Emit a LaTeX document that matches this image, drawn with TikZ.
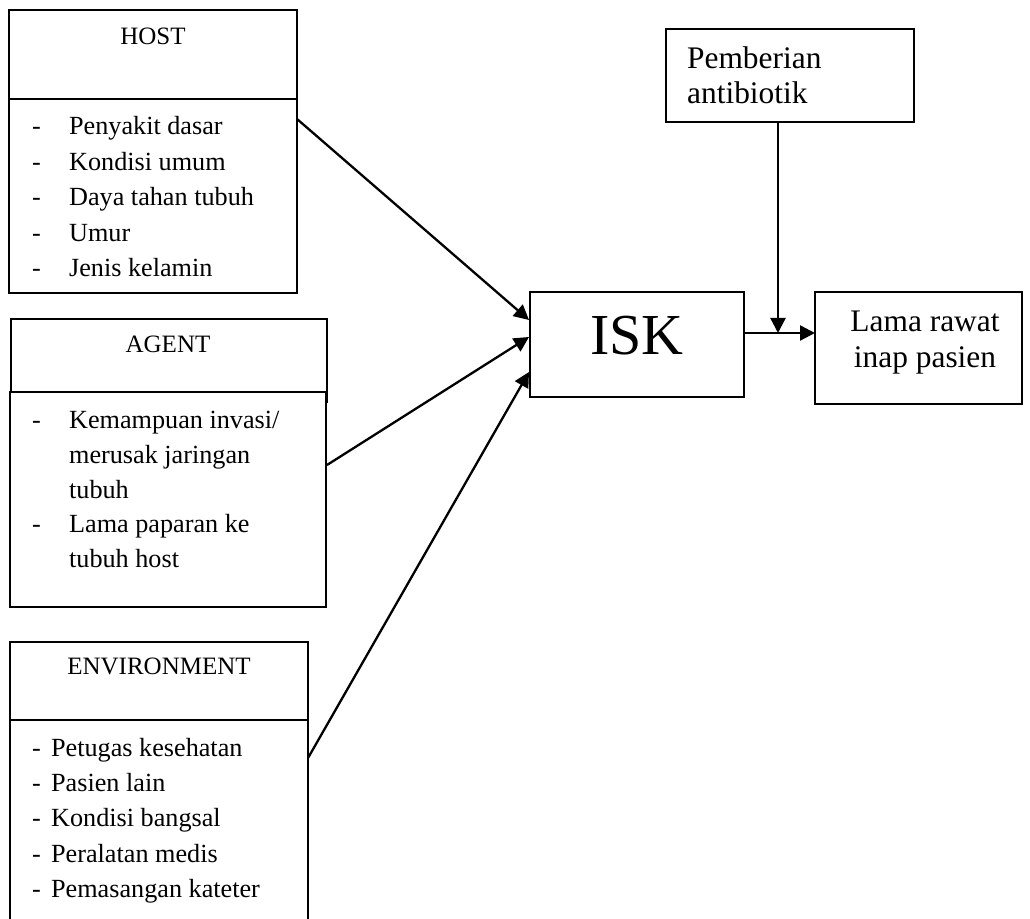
\documentclass[tikz,border=0pt]{standalone}
\usepackage{fontspec}
\setmainfont{Liberation Serif}
\usetikzlibrary{arrows.meta}
\begin{document}
\begin{tikzpicture}[x=0.5pt,y=-0.5pt,line width=1.15pt,
  box/.style={draw,rectangle,inner sep=0pt},
  hd/.style={inner sep=0pt,anchor=base,font=\fontsize{12.5}{15}\selectfont},
  it/.style={inner sep=0pt,anchor=base west,font=\fontsize{13.1}{16}\selectfont},
  big/.style={inner sep=0pt,font=\fontsize{15.7}{18}\selectfont},
  arr/.style={-{Triangle[length=7.5pt,width=7.5pt]}}]
\useasboundingbox (0,0) rectangle (1030,919);
% HOST
\node[box,minimum width=144pt,minimum height=141.5pt] (host) at (153,151.5) {};
\draw (host.west |- 0,99) -- (host.east |- 0,99);
\node[hd] (hostT) at (153,45) {HOST};
\foreach \y/\t [count=\i] in {135/Penyakit dasar,170.5/Kondisi umum,206/Daya tahan tubuh,241.5/Umur,277/Jenis kelamin}{
  \node[it] (hd\i) at (31,\y) {-};
  \node[it] (ht\i) at (68,\y) {\t};
}
% AGENT
\draw (11,392) -- (11,319) -- (327,319) -- (327,403);
\node[box,minimum width=158pt,minimum height=107.5pt] (agent) at (168,499.5) {};
\node[hd] (agentT) at (168,353) {AGENT};
\node[it] (ad1) at (31,429) {-};
\node[it] (at1) at (68,429) {Kemampuan invasi/};
\node[it] (at2) at (68,464) {merusak jaringan};
\node[it] (at3) at (68,498.5) {tubuh};
\node[it] (ad4) at (31,533) {-};
\node[it] (at4) at (68,533) {Lama paparan ke};
\node[it] (at5) at (68,567.5) {tubuh host};
% ENVIRONMENT
\draw (10,925) -- (10,642) -- (308,642) -- (308,925);
\draw (10,720) -- (308,720);
\coordinate (envE) at (308,758);
\node[hd] (envT) at (159,675) {ENVIRONMENT};
\foreach \y/\t [count=\i] in {757/Petugas kesehatan,792/Pasien lain,827/Kondisi bangsal,863/Peralatan medis,898/Pemasangan kateter}{
  \node[it] (ed\i) at (31,\y) {-};
  \node[it] (et\i) at (50,\y) {\t};
}
% ISK
\node[box,minimum width=107pt,minimum height=52.5pt] (isk) at (637,344.5) {};
\node[inner sep=0pt,anchor=base,font=\fontsize{29}{32}\selectfont] (iskT) at (637,355) {ISK};
% Pemberian
\node[box,minimum width=124pt,minimum height=46.5pt] (pemb) at (790,75.5) {};
\node[big,anchor=base west] (pembT1) at (686,69) {Pemberian};
\node[big,anchor=base west] (pembT2) at (686,104) {antibiotik};
% Lama
\node[box,minimum width=103.5pt,minimum height=56pt] (lama) at (918.5,348) {};
\node[big,anchor=base] (lamaT1) at (925,332) {Lama rawat};
\node[big,anchor=base] (lamaT2) at (925,368) {inap pasien};
% connectors
\coordinate (hostE) at (297,119);
\coordinate (agentE) at (327,465);
\coordinate (iskA) at (529,320);
\coordinate (iskB) at (529,337);
\coordinate (iskC) at (529,372);
\coordinate (iskE) at (744,333);
\coordinate (lamaW) at (815,333);
\coordinate (junc) at (778,333);
\draw[arr] (hostE) -- (iskA);
\draw[arr] (agentE) -- (iskB);
\draw[arr] (envE) -- (iskC);
\draw[arr] (iskE) -- (lamaW);
\draw[arr] (pemb.south -| junc) -- (junc);
\end{tikzpicture}
\end{document}
